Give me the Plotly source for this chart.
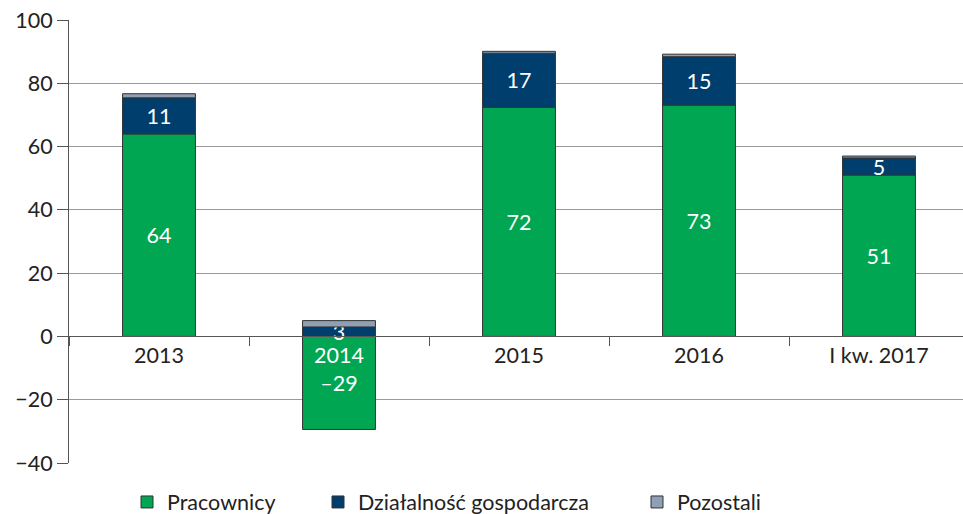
import plotly.graph_objects as go

categories = ["2013", "2014", "2015", "2016", "I kw. 2017"]
pracownicy = [64, -29.4, 72.4, 73.1, 51]
dzialalnosc = [11.4, 3, 17.1, 15.3, 5.4]
pozostali = [1.3, 2, 0.6, 0.8, 0.6]
series_names = ["Pracownicy", "Działalność gospodarcza", "Pozostali"]

y_ticks = [-40, -20, 0, 20, 40, 60, 80, 100]

FONT = "Lato, 'Open Sans', sans-serif"
FS = 21.5
GREEN = "#00A651"
NAVY = "#003E6D"
GREYBLUE = "#8E9FB6"
OUTLINE = "#333333"


def labels(vals):
    return [f"{v:.0f}".replace("-", "\u2013") for v in vals]


fig = go.Figure()
series = [
    (series_names[0], pracownicy, GREEN, True, "legend"),
    (series_names[1], dzialalnosc, NAVY, True, "legend2"),
    (series_names[2], pozostali, GREYBLUE, False, "legend3"),
]
for name, vals, col, show_text, leg in series:
    fig.add_trace(go.Bar(
        x=categories, y=vals, name=name,
        marker=dict(color=col, line=dict(color=OUTLINE, width=1)),
        width=0.405,
        text=labels(vals) if show_text else None,
        textposition="inside" if show_text else "none",
        insidetextanchor="middle",
        textangle=0,
        constraintext="none",
        textfont=dict(color="white", size=FS, family=FONT),
        hoverinfo="skip",
        legend=leg,
    ))

tick_text = [f'<span style="color:white">{c}</span>' if c == "2014" else c for c in categories]

plot_left, plot_w = 69, 894
leg_common = dict(orientation="h", y=-0.088, yanchor="middle", xanchor="left",
                  font=dict(size=FS, color="#222", family=FONT), bgcolor="rgba(0,0,0,0)")

fig.update_layout(
    barmode="relative",
    width=963, height=514,
    margin=dict(l=plot_left, r=0, t=20, b=51, autoexpand=False),
    paper_bgcolor="white", plot_bgcolor="white",
    font=dict(family=FONT, size=FS, color="#222"),
    showlegend=True,
    legend=dict(x=58 / plot_w, **leg_common),
    legend2=dict(x=249 / plot_w, **leg_common),
    legend3=dict(x=568 / plot_w, **leg_common),
    xaxis=dict(
        range=[-0.5, 4.5 - 6 / 180],
        anchor="free", position=40 / 140,
        automargin=False,
        showline=True, linecolor="#555", linewidth=1,
        ticks="outside", tickson="boundaries", ticklen=9, tickcolor="#555",
        tickmode="array", tickvals=categories, ticktext=tick_text,
        tickfont=dict(size=FS, color="#222"),
        showgrid=False, zeroline=False,
        layer="above traces",
    ),
    yaxis=dict(
        range=[-40, 100], tickvals=y_ticks,
        automargin=False,
        showline=True, linecolor="#555", linewidth=1,
        ticks="outside", ticklen=11, tickcolor="#555",
        showgrid=True, gridcolor="#9A9A9A", gridwidth=1,
        zeroline=False,
        tickfont=dict(size=FS, color="#222"),
        layer="below traces",
    ),
)

fig.write_html("out.html", config={"displayModeBar": False},
               post_script="document.body.style.margin='0';")
